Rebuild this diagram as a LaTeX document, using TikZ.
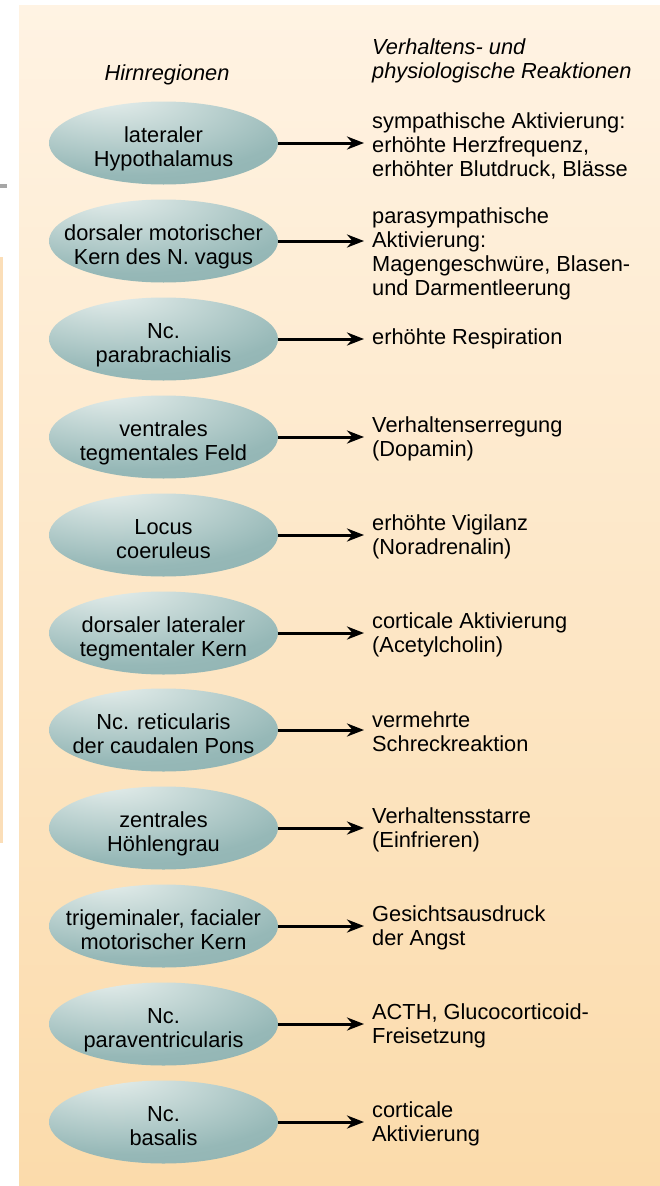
\documentclass[tikz,border=0pt]{standalone}
\usepackage{fontspec}
\setmainfont{Liberation Sans}
\usepackage{tikz}
\usetikzlibrary{arrows.meta, shapes.geometric}
\definecolor{hl}{RGB}{222,233,231}
\definecolor{tealbase}{RGB}{150,184,183}
\definecolor{tealdark}{RGB}{137,173,172}
\definecolor{bgtop}{RGB}{255,243,227}
\definecolor{bgbot}{RGB}{251,219,171}
\definecolor{strip}{RGB}{251,222,184}
\pgfdeclareradialshading{hirn}{\pgfpoint{-13bp}{30bp}}{color(0bp)=(hl); color(5bp)=(hl); color(38bp)=(tealbase); color(70bp)=(tealdark); color(100bp)=(tealdark)}
\newcommand{\txt}{\fontsize{21.8}{24}\selectfont}

\begin{document}
\begin{tikzpicture}
[x=1pt, y=-1pt,
 reg/.style={ellipse, shade, shading=hirn, minimum width=229pt, minimum height=83pt, inner xsep=-50pt, inner ysep=-12pt, text height=46pt, text depth=0pt, align=center, font=\txt},
 rea/.style={anchor=west, inner sep=0pt, align=left, font=\txt},
 kopf/.style={inner sep=0pt, align=left, font=\txt\itshape},
 ->/.style={line width=3pt, shorten >=8pt, arrows={-Stealth[length=17pt, width=13pt]}}]
\useasboundingbox (0,0) rectangle (660,1186);
% Hintergrund
\fill[top color=bgtop, bottom color=bgbot] (19,5) rectangle (660,1186);
\fill[gray!70] (0,184) rectangle (7,188);
\fill[strip] (0,257) rectangle (3,843);
% Kopfzeilen
\node[kopf] (h1) at (167, 75) {Hirnregionen};
\node[kopf, anchor=west] (h2) at (372, 61) {Verhaltens- und\\physiologische Reaktionen};
% Hirnregionen
\node[reg] (r1) at (163.5, 143) {lateraler\\Hypothalamus};
\node[reg] (r2) at (163.5, 241) {dorsaler motorischer\\Kern des N. vagus};
\node[reg] (r3) at (163.5, 339) {Nc.\\parabrachialis};
\node[reg] (r4) at (163.5, 437) {ventrales\\tegmentales Feld};
\node[reg] (r5) at (163.5, 535) {Locus\\coeruleus};
\node[reg] (r6) at (163.5, 633) {dorsaler lateraler\\tegmentaler Kern};
\node[reg] (r7) at (163.5, 730) {Nc. reticularis\\der caudalen Pons};
\node[reg] (r8) at (163.5, 828) {zentrales\\Höhlengrau};
\node[reg] (r9) at (163.5, 926) {trigeminaler, facialer\\motorischer Kern};
\node[reg] (r10) at (163.5, 1024) {Nc.\\paraventricularis};
\node[reg] (r11) at (163.5, 1122) {Nc.\\basalis};
% Reaktionen
\node[rea] (v1) at (372, 146) {sympathische Aktivierung:\\erhöhte Herzfrequenz,\\erhöhter Blutdruck, Blässe};
\node[rea] (v2) at (372, 254) {parasympathische\\Aktivierung:\\Magengeschwüre, Blasen-\\und Darmentleerung};
\node[rea] (v3) at (372, 339) {erhöhte Respiration};
\node[rea] (v4) at (372, 439) {Verhaltenserregung\\(Dopamin)};
\node[rea] (v5) at (372, 537) {erhöhte Vigilanz\\(Noradrenalin)};
\node[rea] (v6) at (372, 635) {corticale Aktivierung\\(Acetylcholin)};
\node[rea] (v7) at (372, 732) {vermehrte\\Schreckreaktion};
\node[rea] (v8) at (372, 830) {Verhaltensstarre\\(Einfrieren)};
\node[rea] (v9) at (372, 928) {Gesichtsausdruck\\der Angst};
\node[rea] (v10) at (372, 1026) {ACTH, Glucocorticoid-\\Freisetzung};
\node[rea] (v11) at (372, 1124) {corticale\\Aktivierung};
\draw[->] (r1.east) -- (r1 -| v1.west);
\draw[->] (r2.east) -- (r2 -| v2.west);
\draw[->] (r3.east) -- (r3 -| v3.west);
\draw[->] (r4.east) -- (r4 -| v4.west);
\draw[->] (r5.east) -- (r5 -| v5.west);
\draw[->] (r6.east) -- (r6 -| v6.west);
\draw[->] (r7.east) -- (r7 -| v7.west);
\draw[->] (r8.east) -- (r8 -| v8.west);
\draw[->] (r9.east) -- (r9 -| v9.west);
\draw[->] (r10.east) -- (r10 -| v10.west);
\draw[->] (r11.east) -- (r11 -| v11.west);

\end{tikzpicture}
\end{document}
